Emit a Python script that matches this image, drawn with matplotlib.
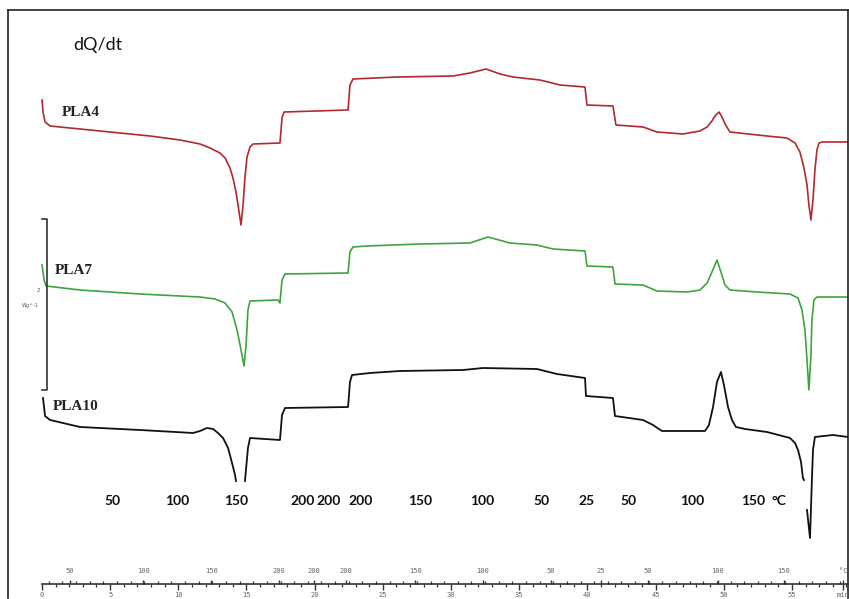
import numpy as np
import matplotlib as mpl
import matplotlib.pyplot as plt
from matplotlib.ticker import FixedLocator, MultipleLocator, NullFormatter

nan = np.nan

# ---------------------------------------------------------------- data
# time (min) and heat flow signal (a.u., curves already offset as plotted)
pla4_t = [0, 0.07, 0.22, 0.59, 4.26, 7.93, 10.13, 11.60, 12.34, 13.07, 13.44, 13.80,
          14.02, 14.24, 14.39, 14.61, 14.76, 14.90, 15.05, 15.27, 15.49, 17.47, 17.62,
          17.77, 22.47, 22.61, 22.83, 26.06, 30.18, 31.42, 32.60, 33.63, 34.58, 36.56,
          38.03, 39.87, 40.01, 41.92, 42.14, 44.13, 45.15, 47.06, 48.31, 48.83, 49.19,
          49.41, 49.71, 49.93, 50.15, 50.51, 53.23, 54.70, 55.29, 55.65, 55.95, 56.17,
          56.31, 56.46, 56.61, 56.75, 56.90, 57.05, 57.27, 59.18]
pla4_q = [50.0, 48.8, 47.8, 47.4, 46.9, 46.4, 46.0, 45.6, 45.2, 44.7, 44.2, 43.2,
          42.2, 40.8, 39.5, 37.5, 39.5, 42.3, 44.3, 45.3, 45.6, 45.7, 48.2,
          48.8, 49.0, 51.5, 52.1, 52.3, 52.4, 52.7, 53.1, 52.6, 52.3, 52.0,
          51.5, 51.3, 49.5, 49.4, 47.5, 47.3, 46.8, 46.6, 46.9, 47.3, 47.9,
          48.4, 48.8, 48.3, 47.6, 46.8, 46.4, 46.2, 45.7, 44.8, 43.2, 41.5,
          39.5, 38.0, 40.0, 43.0, 45.0, 45.7, 45.8, 45.8]

pla7_t = [0, 0.15, 0.29, 2.79, 7.20, 11.60, 12.70, 13.44, 13.95, 14.32, 14.61, 14.83,
          14.98, 15.12, 15.27, 17.33, 17.47, 17.62, 17.84, 22.47, 22.61, 22.83, 23.86,
          27.75, 31.42, 32.75, 34.36, 36.34, 37.52, 39.87, 40.01, 41.92, 42.07, 44.13,
          45.15, 47.36, 48.31, 48.83, 49.19, 49.56, 49.85, 50.15, 50.51, 52.50, 54.92,
          55.51, 55.80, 56.02, 56.17, 56.31, 56.46, 56.53, 56.68, 56.90, 59.18]
pla7_q = [33.5, 32.0, 31.4, 31.0, 30.6, 30.3, 30.1, 29.7, 28.8, 27.0, 25.0, 23.4,
          25.5, 29.0, 29.9, 30.0, 29.7, 32.0, 32.6, 32.7, 34.8, 35.3, 35.4,
          35.6, 35.7, 36.3, 35.7, 35.5, 35.1, 34.9, 33.4, 33.3, 31.6, 31.5,
          30.9, 30.8, 31.0, 31.7, 32.8, 34.0, 32.8, 31.5, 31.0, 30.8, 30.6,
          30.2, 29.0, 27.0, 24.0, 21.0, 24.5, 28.0, 30.0, 30.3, 30.3]

pla10_t = [0.07, 0.22, 0.59, 2.79, 7.20, 11.09, 11.60, 12.11, 12.56, 12.92, 13.29, 13.66,
           13.95, 14.17, 14.24, nan, 14.90, 15.12, 15.27, 17.47, 17.62, 17.84, 22.47,
           22.61, 22.76, 24.08, 26.28, 30.91, 32.38, 36.34, 37.81, 39.87, 39.94, 41.92,
           42.07, 44.13, 44.86, 45.52, 48.68, 48.97, 49.27, 49.56, 49.85, 50.07, 50.37,
           50.66, 50.95, 51.62, 53.23, 54.92, 55.29, 55.51, 55.73, 55.87, 55.95, nan,
           56.17, 56.39, 56.53, 56.61, 56.75, 58.08, 59.18]
pla10_q = [20.2, 18.4, 18.0, 17.3, 17.0, 16.7, 16.9, 17.2, 17.1, 16.7, 16.2, 15.2,
           13.7, 12.5, 11.9, nan, 11.9, 15.2, 16.2, 16.0, 18.5, 19.2, 19.3,
           21.8, 22.5, 22.7, 22.9, 23.0, 23.2, 23.1, 22.6, 22.2, 20.4, 20.2,
           18.4, 18.0, 17.5, 16.9, 16.9, 17.5, 19.3, 21.8, 22.8, 21.5, 19.3,
           18.0, 17.3, 17.1, 16.8, 16.2, 15.7, 15.0, 13.8, 12.2, 12.0, nan,
           9.0, 6.2, 12.0, 15.0, 16.3, 16.5, 16.3]

# temperature program labels (big bold row) and ruler labels
big_temp_labels = ["50", "100", "150", "200", "200", "200", "150", "100", "50", "25",
                   "50", "100", "150", "°C"]
big_temp_t = [5.21, 9.91, 14.24, 19.16, 21.07, 23.42, 27.75, 32.31, 36.71, 40.01,
              43.03, 47.72, 52.20, 54.10]
ruler_temp_labels = ["50", "100", "150", "200", "200", "200", "150", "100", "50", "25",
                     "50", "100", "150", "°C"]
ruler_temp_t = [2.06, 7.42, 12.41, 17.40, 19.97, 22.32, 27.39, 32.31, 37.30, 40.97,
                44.42, 49.56, 54.41, 58.74]
time_ticks = [0, 5, 10, 15, 20, 25, 30, 35, 40, 45, 50, 55, 58.74]
time_labels = ["0", "5", "10", "15", "20", "25", "30", "35", "40", "45", "50", "55", "min"]

# ---------------------------------------------------------------- figure
W, H = 849, 599
fig = plt.figure(figsize=(W / 100, H / 100), dpi=100)
XL = (-2.50, 59.18)
ax = fig.add_axes([8 / W, 1 / H, 840 / W, 588 / H])
ax.set_xlim(*XL)
ax.set_ylim(0.2, 59.0)
ax.set_xticks([]); ax.set_yticks([])
for s in ("left", "top", "right"):
    ax.spines[s].set_linewidth(1.2)
    ax.spines[s].set_color("#222222")
ax.spines["bottom"].set_visible(False)

ax.plot(pla4_t, pla4_q, color="#b02a2e", lw=1.2)
ax.plot(pla7_t, pla7_q, color="#3fa33f", lw=1.2)
ax.plot(pla10_t, pla10_q, color="#111111", lw=1.3)

serif = dict(family="Liberation Serif", fontweight="bold", fontsize=11, color="#222222")
ax.text(1.47, 48.7, "PLA4", va="center", ha="left", **serif)
ax.text(0.95, 32.9, "PLA7", va="center", ha="left", **serif)
ax.text(0.81, 19.3, "PLA10", va="center", ha="left", **serif)
ax.text(2.28, 55.5, "dQ/dt", va="center", ha="left", family="Lato", fontsize=13,
        color="#111111")

for lab, t in zip(big_temp_labels, big_temp_t):
    ax.text(t, 9.9, lab, ha="center", va="center", family="Lato", fontweight="bold",
            fontsize=10, color="#111111")

# scale bar
ax.plot([0.0, 0.37, 0.37, 0.0], [38.1, 38.1, 21.0, 21.0], color="#333333", lw=1.2)
ax.text(-0.29, 30.9, "2", fontsize=4, ha="center", va="center", color="#555555")
ax.text(-0.88, 29.4, "Wg^-1", fontsize=3.5, ha="center", va="center", color="#555555")

# ---------------------------------------------------------------- ruler
axr = fig.add_axes([42 / W - 0.0001, (H - 584) / H, (W - 42) / W, 0.5 / H])
axr.set_xlim(0, XL[1])
axr.set_yticks([])
axr.patch.set_alpha(0)
for s in ("left", "top", "right"):
    axr.spines[s].set_visible(False)
axr.spines["bottom"].set_linewidth(1.2)
axr.spines["bottom"].set_color("#333333")
axr.xaxis.set_major_locator(FixedLocator(time_ticks))
axr.set_xticklabels(time_labels, fontsize=5, family="DejaVu Sans Mono")
axr.xaxis.set_minor_locator(MultipleLocator(1))
axr.tick_params(axis="x", which="major", direction="out", length=4, width=1.0,
                colors="#333333", labelcolor="#666666", pad=2)
axr.tick_params(axis="x", which="minor", direction="out", length=2.5, width=0.9,
                colors="#333333")

axt = axr.twiny()
axt.set_xlim(axr.get_xlim())
axt.patch.set_alpha(0)
for s in axt.spines.values():
    s.set_visible(False)
axt.xaxis.set_major_locator(FixedLocator(ruler_temp_t))
axt.set_xticklabels(ruler_temp_labels, fontsize=5, family="DejaVu Sans Mono")
axt.xaxis.set_minor_locator(FixedLocator(np.arange(0.5, 59, 1.0)))
axt.xaxis.set_minor_formatter(NullFormatter())
axt.tick_params(axis="x", which="major", direction="out", length=3, width=1.0,
                colors="#333333", labelcolor="#666666", pad=4)
axt.tick_params(axis="x", which="minor", direction="out", length=2, width=0.9,
                colors="#333333")

fig.savefig("out.png", dpi=100)
